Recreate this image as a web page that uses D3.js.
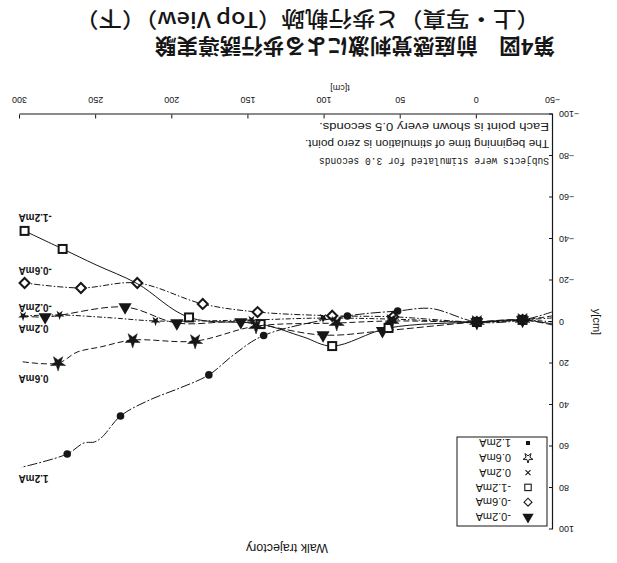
<!DOCTYPE html>
<html><head><meta charset="utf-8">
<script src="https://cdn.jsdelivr.net/npm/d3@7"></script>
<style>body{margin:0;background:#fff}svg{display:block}</style>
</head><body>
<svg id="c" width="617" height="563"></svg>
<script>
// ---- data (cm) ----
const xTicks = [-50, 0, 50, 100, 150, 200, 250, 300];
const yTicks = [-100, -80, -60, -40, -20, 0, 20, 40, 60, 80, 100];
const seriesNames = ["-0.2mA", "-0.6mA", "-1.2mA", "0.2mA", "0.6mA", "1.2mA"];

const n02X = [-50, -30, 0, 62, 101, 155, 197, 231, 283.5, 300];
const n02Y = [1.5, -1, 0, 4.3, 6.3, 0, 0.5, -7.2, -2.4, -3];
const n02M = [0, 1, 1, 1, 1, 1, 1, 1, 1, 0];

const n06X = [-50, -30, 0, 55, 95, 144, 180, 223, 260, 297];
const n06Y = [-2, -1, 0, -2.5, -3, -4.8, -8.7, -18.8, -16.4, -18.8];
const n06M = [0, 1, 1, 1, 1, 1, 1, 1, 1, 1];

const n12X = [-50, -30, 0, 58, 95, 114, 142, 189, 223, 250, 272, 297];
const n12Y = [1, -1, 0, 2.9, 11.6, 7.2, 1, -2.2, -18.5, -27.5, -35.2, -43.9];
const n12M = [0, 1, 1, 1, 1, 0, 1, 1, 0, 0, 1, 1];

const p02X = [-50, -30, 0, 56, 101, 148, 211, 240, 274, 298];
const p02Y = [0, -1, 0, -1.4, -1.9, -1, -0.5, -2, -3.4, -2.9];
const p02M = [0, 1, 1, 1, 1, 1, 1, 0, 1, 1];

const p06X = [-50, -30, 0, 56, 92, 145, 185, 226, 247, 262.5, 275, 300];
const p06Y = [-3, -1, 0, -0.5, 0.5, 2, 9.2, 8.7, 12, 14.5, 19.8, 19];
const p06M = [0, 1, 1, 1, 1, 1, 1, 1, 0, 0, 1, 0];

const p12X = [-50, -30, 0, 30, 52, 85, 140, 160, 176, 195, 215, 234, 246, 251, 258, 269, 299];
const p12Y = [-5, -1, 0, -6.5, -5.3, -2.9, 6.5, 16, 25.5, 31.8, 37.6, 45.3, 55.4, 57.8, 58.3, 63.6, 70];
const p12M = [0, 1, 1, 0, 1, 1, 1, 0, 1, 0, 0, 1, 0, 0, 0, 1, 0];

const labelY = [-7.2, -24.6, -50.6, 2.9, 27, 75.2];
const notes = ["Subjects were stimulated for 3.0 seconds",
               "The beginning time of stimulation is zero point.",
               "Each point is shown every 0.5 seconds."];
const title1 = "第4図　前庭感覚刺激による歩行誘導実験";
const title2 = "（上・写真）と歩行軌跡（Top View）（下）";

// ---- drawing ----
const svg = d3.select("#c");
svg.append("rect").attr("width", 617).attr("height", 563).attr("fill", "#fff");
const g = svg.append("g").attr("transform", "rotate(180 308.5 281.5)");
const ink = "#161616";

const x = d3.scaleLinear().domain([-50, 300]).range([64, 597]);
const y = d3.scaleLinear().domain([-100, 100]).range([448.5, 33.5]);

const xAxis = g.append("g").attr("transform", `translate(0,${y(-100)})`)
  .call(d3.axisBottom(x).tickValues(xTicks).tickSizeInner(-4).tickSizeOuter(0).tickPadding(11));
const yAxis = g.append("g").attr("transform", `translate(${x(-50)},0)`)
  .call(d3.axisLeft(y).tickValues(yTicks).tickSizeInner(-4).tickSizeOuter(0).tickPadding(6));
[xAxis, yAxis].forEach(a => {
  a.select(".domain").attr("stroke", ink).attr("stroke-width", 1.2);
  a.selectAll(".tick line").attr("stroke", ink).attr("stroke-width", 1);
  a.selectAll("text").attr("font-family", "Liberation Sans, Arial, sans-serif").attr("font-size", 9).attr("fill", ink);
});

g.append("text").attr("x", 277).attr("y", 478).attr("text-anchor", "middle")
  .attr("font-family", "Liberation Sans, Arial").attr("font-size", 9).attr("fill", ink).text("t[cm]");
g.append("text").attr("transform", "translate(24,241) rotate(-90)").attr("text-anchor", "middle")
  .attr("font-family", "Liberation Sans, Arial").attr("font-size", 11).attr("fill", ink).text("y[cm]");

const series = [
  {xs: n02X, ys: n02Y, ms: n02M, sym: "tri", dash: "7,3"},
  {xs: n06X, ys: n06Y, ms: n06M, sym: "dia", dash: "6,2,1.5,2"},
  {xs: n12X, ys: n12Y, ms: n12M, sym: "sq", dash: null},
  {xs: p02X, ys: p02Y, ms: p02M, sym: "x", dash: "5,2,1.5,2"},
  {xs: p06X, ys: p06Y, ms: p06M, sym: "star", dash: "6,3"},
  {xs: p12X, ys: p12Y, ms: p12M, sym: "circ", dash: "10,2,2,2"}
];

const line = d3.line().x(d => x(d[0])).y(d => y(d[1])).curve(d3.curveCatmullRom.alpha(0.5));

function drawSym(sel, sym, big) {
  const k = big ? 1 : 0.8;
  if (sym === "tri") sel.append("path").attr("d", d3.symbol(d3.symbolTriangle, big ? 75 : 55)()).attr("fill", ink);
  else if (sym === "dia") sel.append("path").attr("d", `M0,${-5*k}L${5*k},0L0,${5*k}L${-5*k},0Z`)
      .attr("fill", "#fff").attr("stroke", ink).attr("stroke-width", big ? 2 : 1.1);
  else if (sym === "sq") sel.append("rect").attr("x", -4*k).attr("y", -4*k).attr("width", 8*k).attr("height", 8*k)
      .attr("fill", "#fff").attr("stroke", ink).attr("stroke-width", big ? 2 : 1.1);
  else if (sym === "x") {
    if (big) sel.append("path").attr("d", d3.symbol(d3.symbolStar, 30)()).attr("fill", ink);
    else sel.append("path").attr("d", "M-2.5,-2.5L2.5,2.5M-2.5,2.5L2.5,-2.5").attr("stroke", ink).attr("stroke-width", 1.1);
  }
  else if (sym === "star") sel.append("path").attr("d", d3.symbol(d3.symbolStar, big ? 70 : 30)())
      .attr("fill", big ? ink : "#fff").attr("stroke", ink).attr("stroke-width", big ? 0.5 : 1);
  else if (sym === "circ") {
    if (big) sel.append("circle").attr("r", 3.8).attr("fill", ink);
    else sel.append("rect").attr("x", -2).attr("y", -2).attr("width", 4).attr("height", 4).attr("fill", ink);
  }
}

series.forEach((s, i) => {
  const pts = s.xs.map((v, j) => [v, s.ys[j]]);
  g.append("path").attr("d", line(pts)).attr("fill", "none").attr("stroke", ink)
    .attr("stroke-width", 1).attr("stroke-dasharray", s.dash);
  pts.forEach((p, j) => {
    if (!s.ms[j]) return;
    const m = g.append("g").attr("transform", `translate(${x(p[0])},${y(p[1])})`);
    drawSym(m, s.sym, true);
  });
  g.append("text").attr("x", x(301)).attr("y", y(labelY[i])).attr("dy", "0.35em").attr("text-anchor", "end")
    .attr("font-family", "Liberation Sans, Arial").attr("font-size", 10).attr("font-weight", "bold")
    .attr("fill", ink).text(seriesNames[i]);
});

// legend
const lg = g.append("g");
lg.append("rect").attr("x", 70).attr("y", 37).attr("width", 90).attr("height", 89)
  .attr("fill", "#fff").attr("stroke", ink).attr("stroke-width", 1);
seriesNames.forEach((n, i) => {
  const yy = 46 + i * 14.8;
  const m = lg.append("g").attr("transform", `translate(89,${yy})`);
  drawSym(m, series[i].sym, false);
  lg.append("text").attr("x", 106).attr("y", yy).attr("dy", "0.35em")
    .attr("font-family", "Liberation Sans, Arial").attr("font-size", 11).attr("fill", ink).text(n);
});

// notes
const noteY = [402, 420, 437];
const noteW = [230, 244, 230];
notes.forEach((t, i) => {
  g.append("text").attr("x", 68).attr("y", noteY[i]).attr("dy", "0.35em")
    .attr("font-family", i === 0 ? "Liberation Mono, monospace" : "Liberation Sans, Arial")
    .attr("font-size", 10).attr("fill", ink)
    .attr("textLength", noteW[i]).attr("lengthAdjust", "spacingAndGlyphs").text(t);
});

g.append("text").attr("x", 330).attr("y", 15).attr("dy", "0.35em").attr("text-anchor", "middle")
  .attr("font-family", "Liberation Sans, Arial").attr("font-size", 12.5).attr("fill", ink).text("Walk trajectory");

g.append("text").attr("x", 62).attr("y", 517).attr("dy", "0.35em")
  .attr("font-family", "Noto Sans CJK JP").attr("font-weight", 700).attr("font-size", 21).attr("fill", ink)
  .attr("textLength", 400).attr("lengthAdjust", "spacingAndGlyphs").text(title1);
g.append("text").attr("x", 77).attr("y", 544).attr("dy", "0.35em")
  .attr("font-family", "Noto Sans CJK JP").attr("font-weight", 500).attr("font-size", 21).attr("fill", ink)
  .attr("textLength", 465).attr("lengthAdjust", "spacingAndGlyphs").text(title2);
</script>
</body></html>
